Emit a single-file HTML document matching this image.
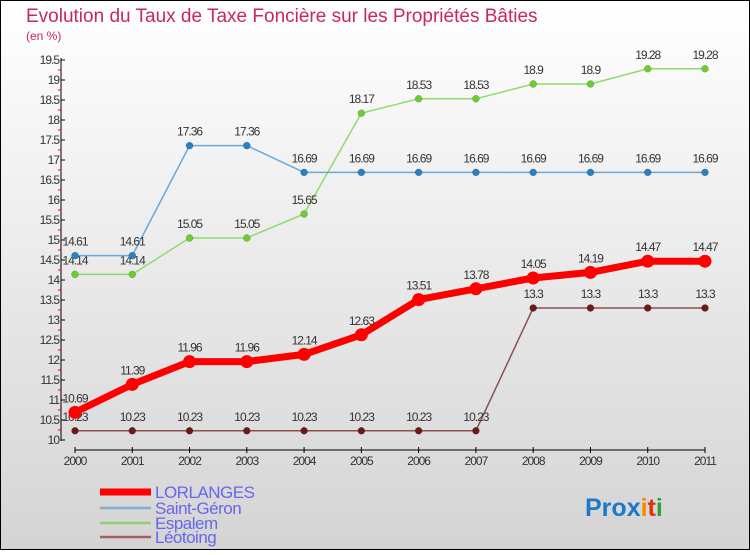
<!DOCTYPE html>
<html><head><meta charset="utf-8"><style>
body{margin:0;padding:0}
#chart{width:750px;height:550px;position:relative;font-family:"Liberation Sans",sans-serif}
</style></head><body>
<div id="chart">
<svg id="svg" width="750" height="550" xmlns="http://www.w3.org/2000/svg">
<defs><linearGradient id="bg" x1="0" y1="0" x2="0" y2="1"><stop offset="0" stop-color="#ffffff"/><stop offset="1" stop-color="#d4d4d4"/></linearGradient></defs>
<rect x="0.5" y="0.5" width="749" height="549" fill="url(#bg)" stroke="#000"/>
<text x="26" y="22" font-size="19" fill="#c8285a">Evolution du Taux de Taxe Foncière sur les Propriétés Bâties</text>
<text x="26" y="40" font-size="12" fill="#c8285a">(en %)</text>
<g id="axes"></g><g id="series"></g><g id="legend"></g>
<text x="585" y="516" font-size="25" font-weight="bold"><tspan fill="#1e78c8">Pro</tspan><tspan fill="#1e78c8">x</tspan><tspan fill="#f08c00">i</tspan><tspan fill="#e03010">t</tspan><tspan fill="#30a030">i</tspan></text>
</svg>
</div>
<script>
const years=["2000","2001","2002","2003","2004","2005","2006","2007","2008","2009","2010","2011"];
const yTicks=["10","10.5","11","11.5","12","12.5","13","13.5","14","14.5","15","15.5","16","16.5","17","17.5","18","18.5","19","19.5"];
const lorlanges=[10.69,11.39,11.96,11.96,12.14,12.63,13.51,13.78,14.05,14.19,14.47,14.47];
const saintGeron=[14.61,14.61,17.36,17.36,16.69,16.69,16.69,16.69,16.69,16.69,16.69,16.69];
const espalem=[14.14,14.14,15.05,15.05,15.65,18.17,18.53,18.53,18.9,18.9,19.28,19.28];
const leotoing=[10.23,10.23,10.23,10.23,10.23,10.23,10.23,10.23,13.3,13.3,13.3,13.3];
const seriesNames=["LORLANGES","Saint-Géron","Espalem","Léotoing"];
const NS="http://www.w3.org/2000/svg";
function X(i){return 75+i*(630/11);}
function Y(v){return 440-(v-10)*40;}
function mk(tag,attrs,parent){const e=document.createElementNS(NS,tag);for(const k in attrs)e.setAttribute(k,attrs[k]);parent.appendChild(e);return e;}
const axes=document.getElementById('axes');
let yl=mk('line',{x1:61,y1:58,x2:61,y2:441,stroke:'#000'},axes);


let xl=mk('line',{x1:75,y1:450,x2:705,y2:450,stroke:'#000'},axes);


yTicks.forEach(t=>{const v=parseFloat(t),y=Y(v);
 mk('line',{x1:61,y1:y,x2:65,y2:y,stroke:'#000'},axes);
 if(v<19.5)mk('line',{x1:58,y1:Y(v+0.25),x2:61,y2:Y(v+0.25),stroke:'#f00'},axes);
 const tx=mk('text',{x:59,y:y+4,'font-size':12,'text-anchor':'end',fill:'#333','letter-spacing':'-1'},axes);tx.textContent=t;
 
 
});
years.forEach((yr,i)=>{const x=X(i);
 mk('line',{x1:x,y1:447,x2:x,y2:453,stroke:'#000'},axes);
 const tx=mk('text',{x:x,y:465,'font-size':12,'text-anchor':'middle',fill:'#333','letter-spacing':'-1'},axes);tx.textContent=yr;
 
 
});
const sg=document.getElementById('series');
function draw(vals,color,dot,w,r,name){
 const g=mk('g',{},sg);
 
 
 mk('polyline',{points:vals.map((v,i)=>X(i)+','+Y(v)).join(' '),fill:'none',stroke:color,'stroke-width':w,'stroke-linejoin':'round'},g);
 vals.forEach((v,i)=>{const c=mk('circle',{cx:X(i),cy:Y(v),r:r,fill:dot,stroke:dot==='#f00'?'none':'rgba(0,0,0,0.25)','stroke-width':0.5},g);
  
  
  const t=mk('text',{x:X(i),y:Y(v)-10,'font-size':12,'text-anchor':'middle',fill:'#333','letter-spacing':'-1'},g);t.textContent=String(v);
  
  });
}
draw(leotoing,'#8b5050','#6b1a1a',1.5,3.5,'series-leotoing');
draw(espalem,'#8fdc6a','#6ccc30',1.5,3.5,'series-espalem');
draw(saintGeron,'#6aa8d8','#2a80c0',1.5,3.5,'series-saint-geron');
draw(lorlanges,'#f00','#f00',7,6.5,'series-lorlanges');
const lg=document.getElementById('legend');
const lcol=['#f00','#80b0d0','#90d070','#a06060'],lw=[7,2.5,2.5,2.5],ly=[492,508,523,537];
seriesNames.forEach((n,i)=>{
 const g=mk('g',{},lg);
 
 
 mk('line',{x1:100,y1:ly[i],x2:151,y2:ly[i],stroke:lcol[i],'stroke-width':lw[i]},g);
 const t=mk('text',{x:155,y:ly[i]+6,'font-size':17,fill:'#6666ee','letter-spacing':'-0.5'},g);t.textContent=n;
});
</script>
</body></html>
